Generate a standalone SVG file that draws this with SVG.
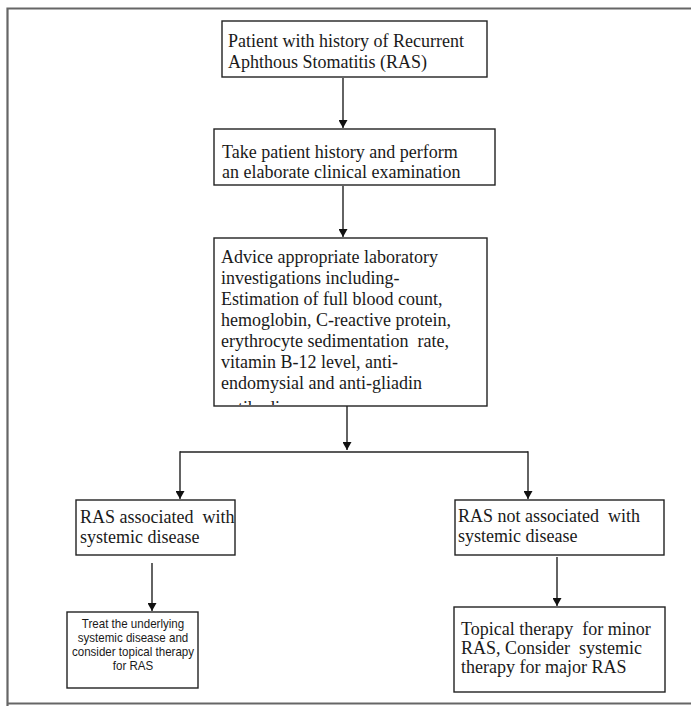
<svg xmlns="http://www.w3.org/2000/svg" width="691" height="706" viewBox="0 0 691 706">
<style>
.box{fill:#fff;stroke:#222;stroke-width:1.4}
.t{font-family:"Liberation Serif","Times New Roman",serif;font-size:18px;fill:#1a1a1a}
.a{font-family:"Liberation Sans",Arial,sans-serif;font-size:13px;fill:#1a1a1a;text-anchor:middle}
.c{fill:none;stroke:#222;stroke-width:1.4}
.frame{stroke:#666;stroke-width:2.2;fill:none}
</style>
<defs>
<marker id="ah" markerWidth="8" markerHeight="9" refX="8" refY="4.5" orient="auto" markerUnits="userSpaceOnUse">
<path d="M0,0 L8,4.5 L0,9 Z" fill="#111"/>
</marker>
<clipPath id="clip3"><rect x="214" y="238" width="273" height="167"/></clipPath>
</defs>
<rect width="691" height="706" fill="#fff"/>
<path class="frame" d="M7.5,706 L7.5,8.5 L691,8.5"/>
<path class="frame" d="M7.5,703.5 L691,703.5"/>
<g id="connectors">
<line class="c" x1="343" y1="78" x2="343" y2="128" marker-end="url(#ah)"/>
<line class="c" x1="343" y1="186" x2="343" y2="237" marker-end="url(#ah)"/>
<line class="c" x1="347" y1="406" x2="347" y2="450" marker-end="url(#ah)"/>
<line class="c" x1="180" y1="452" x2="528" y2="452"/>
<line class="c" x1="180" y1="451.3" x2="180" y2="499" marker-end="url(#ah)"/>
<line class="c" x1="528" y1="451.3" x2="528" y2="499" marker-end="url(#ah)"/>
<line class="c" x1="152" y1="563" x2="152" y2="611" marker-end="url(#ah)"/>
<line class="c" x1="557" y1="557" x2="557" y2="606" marker-end="url(#ah)"/>
</g>
<g id="n1">
<rect class="box" x="222" y="21" width="265" height="56"/>
<text class="t" x="228" y="47">Patient with history of Recurrent</text>
<text class="t" x="228" y="68">Aphthous Stomatitis (RAS)</text>
</g>
<g id="n2">
<rect class="box" x="214" y="129" width="281" height="56"/>
<text class="t" x="222" y="158">Take patient history and perform</text>
<text class="t" x="222" y="178">an elaborate clinical examination</text>
</g>
<g id="n3">
<rect class="box" x="214" y="238" width="273" height="168"/>
<g clip-path="url(#clip3)">
<text class="t" x="221" y="263">Advice appropriate laboratory</text>
<text class="t" x="221" y="284">investigations including-</text>
<text class="t" x="221" y="305">Estimation of full blood count,</text>
<text class="t" x="221" y="326">hemoglobin, C-reactive protein,</text>
<text class="t" x="221" y="347" xml:space="preserve">erythrocyte sedimentation  rate,</text>
<text class="t" x="221" y="368">vitamin B-12 level, anti-</text>
<text class="t" x="221" y="389">endomysial and anti-gliadin</text>
<text class="t" x="221" y="414">antibodies</text>
</g>
</g>
<g id="n4">
<rect class="box" x="76" y="500" width="159" height="55"/>
<text class="t" x="80" y="523" xml:space="preserve">RAS associated  with</text>
<text class="t" x="80" y="543">systemic disease</text>
</g>
<g id="n5">
<rect class="box" x="67" y="612" width="131" height="76"/>
<g transform="translate(133,0) scale(0.89,1)">
<text class="a" x="0" y="628">Treat the underlying</text>
<text class="a" x="0" y="642">systemic disease and</text>
<text class="a" x="0" y="656">consider topical therapy</text>
<text class="a" x="0" y="670">for RAS</text>
</g>
</g>
<g id="n6">
<rect class="box" x="455" y="500" width="209" height="55"/>
<text class="t" x="458" y="522" xml:space="preserve">RAS not associated  with</text>
<text class="t" x="458" y="542">systemic disease</text>
</g>
<g id="n7">
<rect class="box" x="454" y="607" width="211" height="85"/>
<text class="t" x="461" y="635" xml:space="preserve">Topical therapy  for minor</text>
<text class="t" x="461" y="654" xml:space="preserve">RAS, Consider  systemic</text>
<text class="t" x="461" y="673">therapy for major RAS</text>
</g>
</svg>
